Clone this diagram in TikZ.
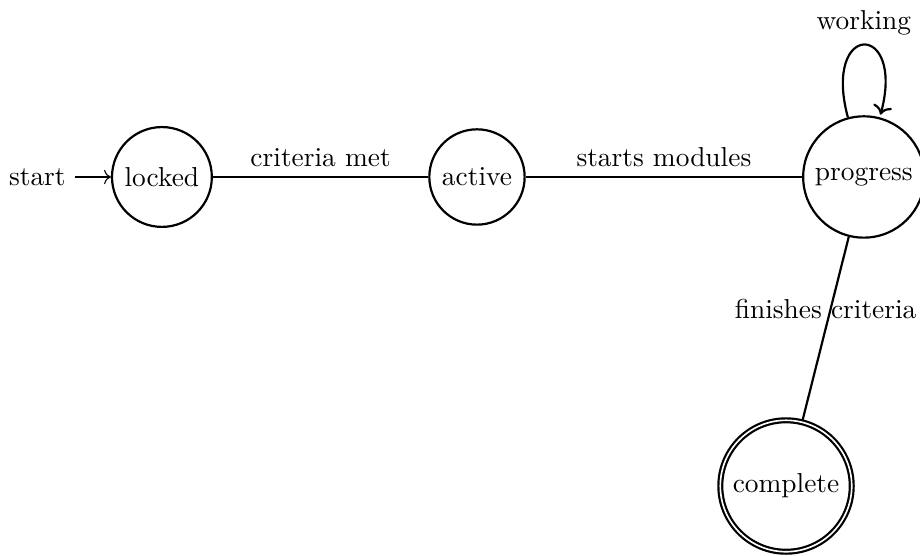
\documentclass[tikz,border=0pt]{standalone}
\usetikzlibrary{automata,arrows.meta}
\begin{document}
\begin{tikzpicture}[x=1pt,y=1pt,
  every state/.style={draw,thick,circle,minimum size=0pt,inner sep=3.33pt},
  edgeline/.style={thick},
  looparrow/.style={thick,->},
  >=To]
\useasboundingbox (0,0) rectangle (335.8,-202.9);
\node[state,initial,initial text=start,initial distance=13pt] (locked) at (59.1,-64.6) {locked};
\node[state] (active) at (174.1,-64.6) {active};
\node[state] (progress) at (315.3,-64.6) {progress};
\node[state,accepting] (complete) at (286.9,-177.4) {complete};
\draw[edgeline] (locked) -- node[above] {criteria met} (active);
\draw[edgeline] (active) -- node[above] {starts modules} (progress);
\draw[edgeline] (progress) -- node[above] {finishes criteria} (complete);
\draw[looparrow] (progress) edge[loop above] node[above] {working} (progress);
\end{tikzpicture}
\end{document}
